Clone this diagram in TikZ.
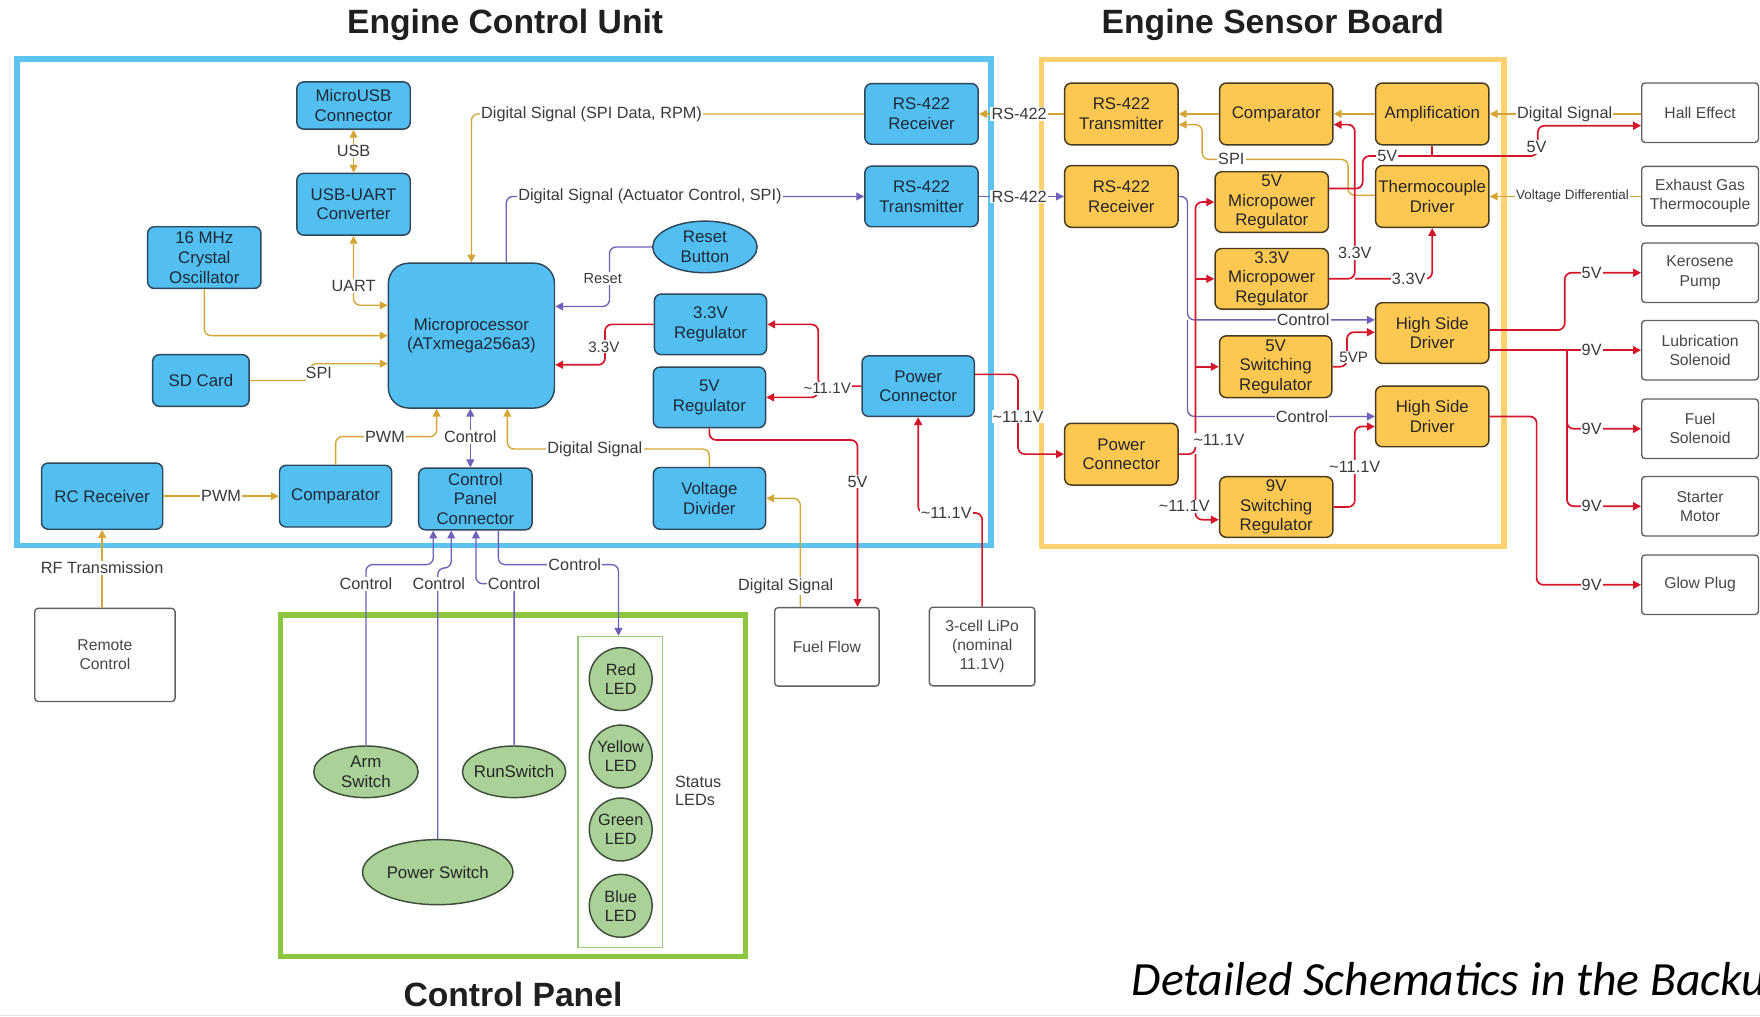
\documentclass[tikz,border=0pt]{standalone}
\usepackage{fontspec}
\setmainfont{Liberation Sans}
\newfontfamily\noteFont{Carlito}
\usetikzlibrary{arrows.meta,shapes.geometric}

\definecolor{ecuFrame}{RGB}{92,195,240}
\definecolor{ecuFill}{RGB}{82,191,240}
\definecolor{ecuLine}{RGB}{45,72,92}
\definecolor{esbFrame}{RGB}{253,208,112}
\definecolor{esbFill}{RGB}{253,200,82}
\definecolor{esbLine}{RGB}{72,58,28}
\definecolor{cpFrame}{RGB}{140,198,63}
\definecolor{cpFill}{RGB}{170,210,152}
\definecolor{cpLine}{RGB}{62,78,56}
\definecolor{ledFrame}{RGB}{150,200,120}
\definecolor{sigCol}{RGB}{212,165,52}
\definecolor{ctlCol}{RGB}{112,96,184}
\definecolor{pwrCol}{RGB}{212,22,42}
\definecolor{txtCol}{RGB}{28,42,56}
\definecolor{lblCol}{RGB}{58,58,58}
\definecolor{extLine}{RGB}{96,96,96}

\newcommand\boxfont{\fontsize{15}{17.5}\selectfont}
\newcommand\lblfont{\fontsize{14.5}{16}\selectfont}
\newcommand\apx{\textasciitilde}

\tikzset{
  box/.style={rounded corners=6pt, line width=1.3pt, align=center, font=\boxfont,
    text=txtCol, inner sep=0pt, minimum width=101pt, minimum height=55pt},
  ecubox/.style={box, fill=ecuFill, draw=ecuLine},
  ecuell/.style={ellipse, fill=ecuFill, draw=ecuLine, line width=1.3pt, align=center,
    font=\boxfont, text=txtCol, inner xsep=-12pt, inner ysep=-6pt,
    minimum width=93pt, minimum height=46pt},
  esbbox/.style={box, fill=esbFill, draw=esbLine, text=black!85},
  extbox/.style={box, fill=white, draw=extLine, text=black!72, rounded corners=3pt,
    line width=1.2pt, minimum width=104pt, minimum height=53pt,
    font=\fontsize{14}{17}\selectfont},
  cpell/.style={ellipse, fill=cpFill, draw=cpLine, line width=1.3pt, align=center,
    font=\boxfont, text=black!85, inner xsep=-14pt, inner ysep=-6pt},
  led/.style={circle, fill=cpFill, draw=cpLine, line width=1.3pt, align=center,
    font=\fontsize{14.5}{17}\selectfont, text=black!85, inner sep=-8pt, minimum size=56pt},
  ecuframe/.style={draw=ecuFrame, line width=5pt},
  esbframe/.style={draw=esbFrame, line width=5pt},
  cpframe/.style={draw=cpFrame, line width=5pt},
  sig/.style={draw=sigCol, line width=1.2pt, rounded corners=6pt},
  ctl/.style={draw=ctlCol, line width=1.2pt, rounded corners=6pt},
  pwr/.style={draw=pwrCol, line width=1.5pt, rounded corners=6pt},
  tip/.style={-{Triangle[length=7pt,width=7pt]}},
  dbl/.style={{Triangle[length=7pt,width=7pt]}-{Triangle[length=7pt,width=7pt]}},
  lbl/.style={fill=white, inner sep=1pt, font=\lblfont, text=lblCol},
  title/.style={font=\bfseries\fontsize{30}{34}\selectfont, text=black!88},
}

\begin{document}
\begin{tikzpicture}[x=1pt,y=-1pt]
\useasboundingbox (0,0) rectangle (1568,906);
\clip (0,0) rectangle (1568,906);
\fill[white] (0,0) rectangle (1568,906);

% ---------- frames ----------
\draw[ecuframe] (15,52.5) rectangle (883,486);
\draw[esbframe] (928,53) rectangle (1340,487);
\draw[cpframe] (250,548) rectangle (664,852);
\draw[gray!22, line width=1pt] (0,904.5) -- (1568,904.5);

% ---------- titles ----------
\node[title] (tecu) at (450,22) {Engine Control Unit};
\node[title] (tesb) at (1134,22) {Engine Sensor Board};
\node[title] (tcp) at (457,886) {Control Panel};
\node[anchor=base west, inner sep=0pt, font=\noteFont\itshape\fontsize{42.5}{46}\selectfont]
  (note) at (1008,887) {Detailed Schematics in the Backup};

% ---------- engine control unit ----------
\node[ecubox, minimum height=42pt] (microusb) at (315,94) {MicroUSB\\Connector};
\node[ecubox] (usbuart) at (315,182) {USB-UART\\Converter};
\node[ecubox] (crystal) at (182,229.5) {16 MHz\\Crystal\\Oscillator};
\node[ecubox, minimum width=148pt, minimum height=129pt, rounded corners=18pt]
  (micro) at (420,299) {Microprocessor\\(ATxmega256a3)};
\node[ecubox, minimum width=86pt, minimum height=46pt] (sd) at (179,339) {SD Card};
\node[ecubox, minimum width=108pt, minimum height=59pt] (rc) at (91,442) {RC Receiver};
\node[ecubox, minimum width=100pt] (compE) at (299,442) {Comparator};
\node[ecubox] (cpc) at (423.5,444.5) {Control\\Panel\\Connector};
\node[ecubox, minimum height=54pt] (rxE) at (821,101.5) {RS-422\\Receiver};
\node[ecubox, minimum height=54pt] (txE) at (821,175) {RS-422\\Transmitter};
\node[ecuell] (reset) at (628,220) {Reset\\Button};
\node[ecubox, minimum width=100pt, minimum height=54pt] (reg33) at (633,289) {3.3V\\Regulator};
\node[ecubox, minimum width=100pt, minimum height=54pt] (reg5) at (632,354) {5V\\Regulator};
\node[ecubox, minimum width=100pt] (vd) at (632,444) {Voltage\\Divider};
\node[ecubox, minimum width=100pt, minimum height=54pt] (pcE) at (818,344) {Power\\Connector};

% ---------- engine sensor board ----------
\node[esbbox] (txS) at (999,101.5) {RS-422\\Transmitter};
\node[esbbox] (rxS) at (999,175) {RS-422\\Receiver};
\node[esbbox] (compS) at (1137,101.5) {Comparator};
\node[esbbox] (amp) at (1276,101.5) {Amplification};
\node[esbbox, minimum height=54pt] (mp5) at (1133,180) {5V\\Micropower\\Regulator};
\node[esbbox] (td) at (1276,175) {Thermocouple\\Driver};
\node[esbbox, minimum height=54pt] (mp33) at (1133,248.4) {3.3V\\Micropower\\Regulator};
\node[esbbox, minimum height=54pt] (hsd1) at (1276,296.7) {High Side\\Driver};
\node[esbbox, minimum width=100pt] (sw5) at (1136.5,326.7) {5V\\Switching\\Regulator};
\node[esbbox, minimum height=54pt] (hsd2) at (1276,371) {High Side\\Driver};
\node[esbbox] (pcS) at (999,404.6) {Power\\Connector};
\node[esbbox, minimum height=54pt] (sw9) at (1137,451.7) {9V\\Switching\\Regulator};

% ---------- external parts ----------
\node[extbox] (hall) at (1514.6,100.4) {Hall Effect};
\node[extbox] (egt) at (1514.6,174.7) {Exhaust Gas\\Thermocouple};
\node[extbox] (kp) at (1514.6,243) {Kerosene\\Pump};
\node[extbox] (lub) at (1514.6,312) {Lubrication\\Solenoid};
\node[extbox] (fuels) at (1514.6,382) {Fuel\\Solenoid};
\node[extbox] (starter) at (1514.6,451) {Starter\\Motor};
\node[extbox] (glow) at (1514.6,521) {Glow Plug};
\node[extbox, minimum width=125pt, minimum height=83pt] (remote) at (93.5,583.5) {Remote\\Control};
\node[extbox, minimum width=93pt, minimum height=70pt] (fuel) at (736.7,576.3) {Fuel Flow};
\node[extbox, minimum width=94pt, minimum height=70pt] (lipo) at (875,576) {3-cell LiPo\\(nominal\\11.1V)};

% ---------- control panel ----------
\node[draw=ledFrame, line width=1.2pt, minimum width=75pt, minimum height=277pt, inner sep=0pt]
  (ledbox) at (552.5,705.5) {};
\node[cpell, minimum width=93pt, minimum height=46pt] (arm) at (326,687.6) {Arm\\Switch};
\node[cpell, minimum width=92pt, minimum height=46pt] (run) at (458,687.6) {RunSwitch};
\node[cpell, minimum width=134pt, minimum height=58pt] (psw) at (390,777) {Power Switch};
\node[led] (ledr) at (553,605) {Red\\LED};
\node[led] (ledy) at (553,674) {Yellow\\LED};
\node[led] (ledg) at (553,739) {Green\\LED};
\node[led] (ledb) at (553,807) {Blue\\LED};
\node[align=left, font=\lblfont, text=lblCol] (statuslbl) at (622,705) {Status\\LEDs};

% ---------- connectors: engine control unit ----------
\draw[sig, dbl] (microusb.south) -- (usbuart.north);
\draw[sig, dbl] (usbuart.south) |- (micro.west |- 0,272);
\draw[sig, tip] (crystal.south) |- (micro.west);
\draw[sig, tip] (sd.east) -- (276,339) -- (276,324) -- (micro.west |- 0,324);
\draw[sig, tip] (rc.east) -- (compE.west);
\draw[sig, tip] (compE.north) |- (389,389) -- (micro.south -| 389,0);
\draw[ctl, dbl] (micro.south -| 419,0) -- (cpc.north -| 419,0);
\draw[sig, tip] (vd.north) |- (452,400) -- (micro.south -| 452,0);
\draw[ctl, tip] (reset.west) -- (543,220) -- (543,273) -- (micro.east |- 0,273);
\draw[pwr, tip] (reg33.west) -- (539,289) -- (539,325) -- (micro.east |- 0,325);
\draw[pwr, tip] (pcE.west) -- (729,344) |- (reg33.east);
\draw[pwr, tip] (729,344) |- (reg5.east);
\draw[pwr, tip] (reg5.south) |- (764,392) -- (fuel.north -| 764,0);
\draw[sig, tip] (fuel.north -| 713,0) |- (vd.east);
\draw[pwr, tip] (lipo.north) |- (818,457) -- (pcE.south);
\draw[pwr, tip] (pcE.east |- 0,333.5) -| (907,404.6) -- (pcS.west);
\draw[sig, tip] (txS.west) -- (rxE.east);
\draw[ctl, tip] (txE.east) -- (rxS.west);
\draw[sig, tip] (rxE.west) -| (micro.north -| 420,0);
\draw[ctl, tip] (micro.north -| 451,0) |- (txE.west);
\draw[sig, tip] (rc.south |- remote.north) -- (rc.south);

% ---------- connectors: control panel ----------
\draw[ctl, tip] (arm.north) |- (386,503) -- (cpc.south -| 386,0);
\draw[ctl, tip] (psw.north) |- (402,506) -- (cpc.south -| 402,0);
\draw[ctl, tip] (run.north) |- (424,520) -- (cpc.south -| 424,0);
\draw[ctl, tip] (cpc.south -| 444,0) |- (551,503) -- (ledbox.north -| 551,0);

% ---------- connectors: engine sensor board ----------
\draw[sig, tip] (compS.west) -- (txS.east);
\draw[sig, tip] (amp.west) -- (compS.east);
\draw[sig, tip] (hall.west |- amp.east) -- (amp.east);
\draw[sig, tip] (egt.west |- td.east) -- (td.east);
\draw[sig, tip] (td.west |- 0,174) -- (1201,174) -- (1201,142) -- (1071,142) -- (1071,111) -- (txS.east |- 0,111);
\draw[pwr, tip] (mp5.east |- 0,168) -- (1214,168) -- (1214,139) -- (1370,139) -- (1370,112) -- (hall.west |- 0,112);
\draw[pwr] (amp.south) -- (amp.south |- 0,139);
\draw[pwr, tip] (mp33.east) -- (1207,248.4) -- (1207,111) -- (compS.east |- 0,111);
\draw[pwr, tip] (1207,248.4) -| (td.south);
\draw[ctl, tip] (rxS.east) -- (1058,175) |- (hsd1.west |- 0,285);
\draw[ctl, tip] (1058,285) |- (hsd2.west);
\draw[pwr, tip] (pcS.east) -| (1065,180) -- (mp5.west);
\draw[pwr, tip] (1065,248.4) -- (mp33.west);
\draw[pwr, tip] (1065,326.7) -- (sw5.west);
\draw[pwr, tip] (1065,404.6) |- (sw9.west |- 0,463);
\draw[pwr, tip] (sw5.east) -- (1200,326.7) -- (1200,296) -- (hsd1.west |- 0,296);
\draw[pwr, tip] (sw9.east) -- (1207,451.7) -- (1207,380) -- (hsd2.west |- 0,380);
\draw[pwr, tip] (hsd1.east |- 0,294) -- (1394,294) |- (kp.west);
\draw[pwr, tip] (hsd1.east |- lub.west) -- (lub.west);
\draw[pwr, tip] (1396,312) |- (fuels.west);
\draw[pwr, tip] (1396,312) |- (starter.west);
\draw[pwr, tip] (hsd2.east) -- (1369,371) |- (glow.west);

% ---------- connector labels ----------
\node[lbl] (l01) at (315,134.5) {USB};
\node[lbl] (l02) at (315,255) {UART};
\node[lbl] (l03) at (284,332) {SPI};
\node[lbl] (l04) at (197,442) {PWM};
\node[lbl] (l05) at (343,389) {PWM};
\node[lbl] (l06) at (419,389) {Control};
\node[lbl] (l07) at (530,400) {Digital Signal};
\node[lbl, font=\fontsize{13}{15}\selectfont] (l08) at (537,248) {Reset};
\node[lbl, font=\fontsize{13.5}{15}\selectfont] (l09) at (538,309) {3.3V};
\node[lbl, font=\fontsize{13.5}{15}\selectfont] (l10) at (737,346) {\apx11.1V};
\node[lbl] (l11) at (764,429) {5V};
\node[lbl] (l12) at (700,522) {Digital Signal};
\node[lbl] (l13) at (843,457) {\apx11.1V};
\node[lbl] (l14) at (907,371) {\apx11.1V};
\node[lbl] (l15) at (908,101.5) {RS-422};
\node[lbl] (l16) at (908,175) {RS-422};
\node[lbl] (l17) at (527,101.5) {Digital Signal (SPI Data, RPM)};
\node[lbl] (l18) at (579,175) {Digital Signal (Actuator Control, SPI)};
\node[lbl] (l19) at (91,506) {RF Transmission};
\node[lbl] (l20) at (326,520) {Control};
\node[lbl] (l21) at (391,520) {Control};
\node[lbl] (l22) at (458,520) {Control};
\node[lbl] (l23) at (512,503) {Control};
\node[lbl] (l24) at (1394,101.5) {Digital Signal};
\node[lbl, font=\fontsize{12}{14}\selectfont] (l25) at (1401,175) {Voltage Differential};
\node[lbl] (l26) at (1097,142) {SPI};
\node[lbl] (l27) at (1236,139) {5V};
\node[lbl] (l28) at (1369,131) {5V};
\node[lbl] (l29) at (1207,225.5) {3.3V};
\node[lbl] (l30) at (1255,248.4) {3.3V};
\node[lbl] (l31) at (1161,285) {Control};
\node[lbl] (l32) at (1160,371) {Control};
\node[lbl] (l33) at (1086,392) {\apx11.1V};
\node[lbl] (l34) at (1055,451) {\apx11.1V};
\node[lbl, font=\fontsize{13.5}{15}\selectfont] (l35) at (1206,318) {5VP};
\node[lbl] (l36) at (1207,416) {\apx11.1V};
\node[lbl] (l37) at (1418,243) {5V};
\node[lbl] (l38) at (1418,312) {9V};
\node[lbl] (l39) at (1418,382) {9V};
\node[lbl] (l40) at (1418,451) {9V};
\node[lbl] (l41) at (1418,521) {9V};
\end{tikzpicture}
\end{document}
